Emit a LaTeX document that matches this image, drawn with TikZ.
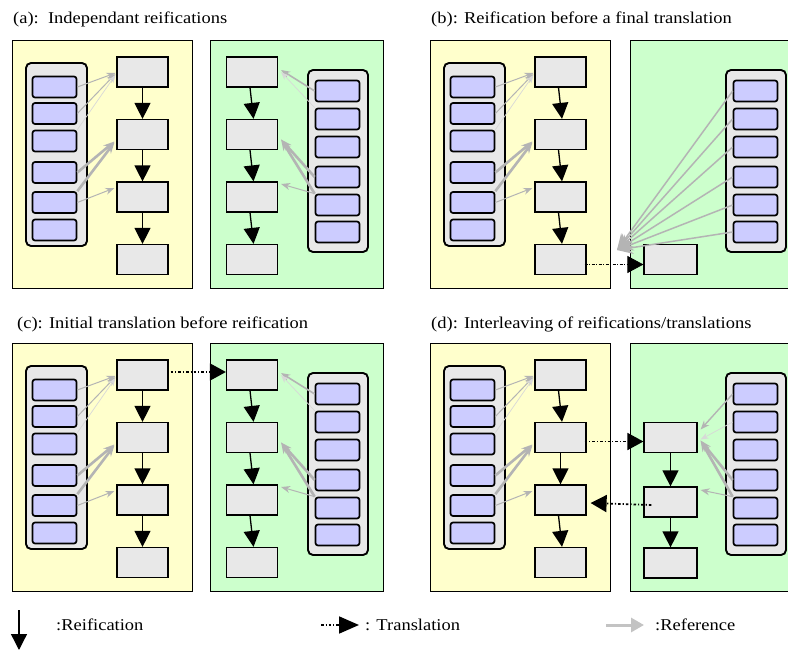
\documentclass[tikz,border=0pt]{standalone}
\usepackage{fontspec}
\setmainfont{Liberation Serif}[FakeStretch=1.12]
\usetikzlibrary{arrows.meta,calc}
\definecolor{ybg}{HTML}{FFFFCC}
\definecolor{gbg}{HTML}{CCFFCC}
\definecolor{boxgray}{HTML}{E8E8E8}
\definecolor{pbg}{HTML}{CCCCFF}
\definecolor{refgray}{HTML}{B4B4B4}
\definecolor{reflight}{HTML}{D8D8D8}
\tikzset{
 panelY/.style={draw, fill=ybg, line width=1.2pt, minimum width=180pt, minimum height=248pt, anchor=north west, inner sep=0pt},
 panelG/.style={draw, fill=gbg, line width=1.2pt, minimum width=173pt, minimum height=248pt, anchor=north west, inner sep=0pt},
 holder/.style={draw, fill=boxgray, line width=1.9pt, rounded corners=5pt, minimum width=61pt, minimum height=183pt, inner sep=0pt},
 pbox/.style={draw, fill=pbg, line width=1.7pt, rounded corners=2.5pt, minimum width=44pt, minimum height=21pt, inner sep=0pt},
 stepbox/.style={draw, fill=boxgray, line width=1.2pt, minimum width=51pt, minimum height=30pt, inner sep=0pt},
 reif/.style={line width=1.3pt, -{Triangle[length=16pt,width=16pt]}},
 trans/.style={line width=1.8pt, dash pattern=on 2.5pt off 2pt on 1.2pt off 2pt, -{Triangle[length=16pt,width=17pt]}},
 refa/.style={draw=refgray, line width=1pt, -{Stealth[length=9pt,width=7pt]}},
 refb/.style={refa, line width=2.6pt, -{Stealth[length=11pt,width=8pt]}},
 refl/.style={draw=reflight, line width=0.7pt, -{Stealth[length=8pt,width=6pt]}},
 title/.style={anchor=base west, inner sep=0pt, font=\fontsize{16.5}{18}\selectfont},
 legtext/.style={anchor=base west, inner sep=0pt, font=\fontsize{16.5}{18}\selectfont},
}
\newcommand\leftholder[1]{%
 \node[holder] (#1h) at (56.5,154.5) {};
 \foreach \i/\yy in {1/87,2/113.5,3/141,4/172.5,5/202.5,6/230}
   \node[pbox] (#1p\i) at (54.5,\yy) {};
}
\newcommand\rightholder[1]{%
 \node[holder, minimum width=60pt, minimum height=182pt] (#1h) at (338,161) {};
 \foreach \i/\yy in {1/91,2/119,3/147,4/177,5/205,6/232}
   \node[pbox] (#1p\i) at (337.5,\yy) {};
}
\newcommand\leftsteps[1]{%
 \node[stepbox] (#1s1) at (142.5,72) {};
 \node[stepbox] (#1s2) at (142.5,134.5) {};
 \node[stepbox] (#1s3) at (142.5,197) {};
 \node[stepbox] (#1s4) at (142.5,259.5) {};
}
\newcommand\leftrefs[1]{%
 \draw[refa] (#1Lp1.east) -- ($(#1s1.west)+(-1,1)$);
 \draw[refa] (#1Lp2.east) -- ($(#1s1.west)+(-1,2)$);
 \draw[refl] (#1Lp3.north east) -- ($(#1s1.west)+(-1,3)$);
 \draw[refb] (#1Lp4.east) -- ($(#1s2.west)+(-2,7)$);
 \draw[refb] (#1Lp5.north east) -- ($(#1s2.west)+(-2,8)$);
 \draw[refa] (#1Lp5.east) -- ($(#1s3.west)+(-2,-9)$);
}
\begin{document}
\begin{tikzpicture}[x=1pt,y=-1pt]
\useasboundingbox (0,0) rectangle (788,650);
\begin{scope}
\clip (0,0) rectangle (788,650);
% ---------------- (a)
\node[title] (ta) at (13,24) {(a):\ \ Independant reifications};
\node[panelY] (aY) at (12,40) {};
\node[panelG] (aG) at (210,40) {};
\leftholder{aL}
\rightholder{aR}
\leftsteps{a}
\node[stepbox] (ag1) at (252,72) {};
\node[stepbox] (ag2) at (252,134.5) {};
\node[stepbox] (ag3) at (252,197) {};
\node[stepbox] (ag4) at (252,259.5) {};
\draw[reif] (as1) -- (as2);
\draw[reif] (as2) -- (as3);
\draw[reif] (as3) -- (as4);
\draw[reif] ([xshift=-2pt]ag1.south) -- ([xshift=1.5pt]ag2.north);
\draw[reif] ([xshift=-2pt]ag2.south) -- ([xshift=1.5pt]ag3.north);
\draw[reif] ([xshift=-2pt]ag3.south) -- ([xshift=1.5pt]ag4.north);
\leftrefs{a}
\draw[refa, line width=1.6pt] (aRp1.west) -- ($(ag1.east)+(3,-2)$);
\draw[refl] (aRp2.north west) -- ($(ag1.east)+(3,0)$);
\draw[refb] (aRp4.west) -- ($(ag2.east)+(3,5)$);
\draw[refb] (aRp5.north west) -- ($(ag2.east)+(3,5)$);
\draw[refa] (aRp5.north west) -- ($(ag3.east)+(3,-13)$);
% ---------------- (b)
\begin{scope}[shift={(418,0)}]
\node[title] (tb) at (13,24) {(b): Reification before a final translation};
\node[panelY] (bY) at (12,40) {};
\node[panelG] (bG) at (212,40) {};
\leftholder{bL}
\rightholder{bR}
\leftsteps{b}
\node[stepbox, minimum width=53pt] (bf) at (252.5,259.5) {};
\draw[reif] ([xshift=-2pt]bs1.south) -- ([xshift=1.5pt]bs2.north);
\draw[reif] ([xshift=-2pt]bs2.south) -- ([xshift=1.5pt]bs3.north);
\draw[reif] ([xshift=-2pt]bs3.south) -- ([xshift=1.5pt]bs4.north);
\leftrefs{b}
\coordinate (bT) at (199,250);
\foreach \i in {1,...,6}
  \draw[refa, line width=1.5pt, -{Stealth[length=16pt,width=13pt]}] (bRp\i.west) -- (bT);
\draw[trans, line width=0.8pt, dash pattern=on 3pt off 1.5pt on 1pt off 1.5pt] ($(bs4.east)+(-2,5)$) -- ($(bf.west)+(0,5)$);
\end{scope}
% ---------------- (c)
\begin{scope}[shift={(0,303)}]
\node[title] (tc) at (17,25) {(c): Initial translation before reification};
\node[panelY] (cY) at (12,40) {};
\node[panelG] (cG) at (210,40) {};
\leftholder{cL}
\rightholder{cR}
\leftsteps{c}
\node[stepbox] (cg1) at (252,72) {};
\node[stepbox] (cg2) at (252,134.5) {};
\node[stepbox] (cg3) at (252,197) {};
\node[stepbox] (cg4) at (252,259.5) {};
\draw[reif] (cs1) -- (cs2);
\draw[reif] (cs2) -- (cs3);
\draw[reif] (cs3) -- (cs4);
\draw[reif] ([xshift=-2pt]cg1.south) -- ([xshift=1.5pt]cg2.north);
\draw[reif] ([xshift=-2pt]cg2.south) -- ([xshift=1.5pt]cg3.north);
\draw[reif] ([xshift=-2pt]cg3.south) -- ([xshift=1.5pt]cg4.north);
\leftrefs{c}
\draw[refa, line width=1.6pt] (cRp1.west) -- ($(cg1.east)+(3,-2)$);
\draw[refl] (cRp2.north west) -- ($(cg1.east)+(3,0)$);
\draw[refb] (cRp4.west) -- ($(cg2.east)+(3,5)$);
\draw[refb] (cRp5.north west) -- ($(cg2.east)+(3,5)$);
\draw[refa] (cRp5.north west) -- ($(cg3.east)+(3,-13)$);
\draw[trans] ($(cs1.east)+(2,-3)$) -- ($(cg1.west)+(0,-3)$);
\end{scope}
% ---------------- (d)
\begin{scope}[shift={(418,303)}]
\node[title] (td) at (13,25) {(d): Interleaving of reifications/translations};
\node[panelY] (dY) at (12,40) {};
\node[panelG] (dG) at (212,40) {};
\leftholder{dL}
\rightholder{dR}
\leftsteps{d}
\node[stepbox, minimum width=53pt] (dg2) at (252.5,134.5) {};
\node[stepbox, minimum width=53pt] (dg3) at (252.5,199) {};
\node[stepbox, minimum width=53pt] (dg4) at (252.5,260) {};
\draw[reif] ([xshift=-2pt]ds1.south) -- ([xshift=1.5pt]ds2.north);
\draw[reif] (ds2) -- (ds3);
\draw[reif] ([xshift=-2pt]ds3.south) -- ([xshift=1.5pt]ds4.north);
\draw[reif] (dg2) -- (dg3);
\draw[reif] (dg3) -- (dg4);
\leftrefs{d}
\draw[refa, line width=1.4pt] (dRp1.west) -- ($(dg2.east)+(3,-8)$);
\draw[refl] (dRp2.west) -- ($(dg2.east)+(3,2)$);
\draw[refb] (dRp4.west) -- ($(dg2.east)+(3,3)$);
\draw[refb] (dRp5.north west) -- ($(dg2.east)+(3,3)$);
\draw[refa] (dRp5.north west) -- ($(dg3.east)+(3,-12)$);
\draw[trans] ($(ds2.east)+(-2,4)$) -- ($(dg2.west)+(0,4)$);
\draw[trans] ($(dg3.west)+(8,3)$) -- ($(ds3.east)+(4,3)$);
\end{scope}
% ---------------- legend
\coordinate (lra) at (19,610);
\coordinate (lrb) at (19,650);
\draw[reif] (lra) -- (lrb);
\node[legtext] (lt1) at (56,630) {:Reification};
\coordinate (lta) at (321,625);
\coordinate (ltb) at (359,625);
\draw[trans, -{Triangle[length=20pt,width=17pt]}] (lta) -- (ltb);
\node[legtext] (lt2) at (365,630) {: Translation};
\coordinate (lfa) at (606,625);
\coordinate (lfb) at (644,625);
\draw[draw=refgray!80, line width=3pt, -{Triangle[length=13pt,width=14pt]}] (lfa) -- (lfb);
\node[legtext] (lt3) at (655,630) {:Reference};
\end{scope}
\end{tikzpicture}
\end{document}
